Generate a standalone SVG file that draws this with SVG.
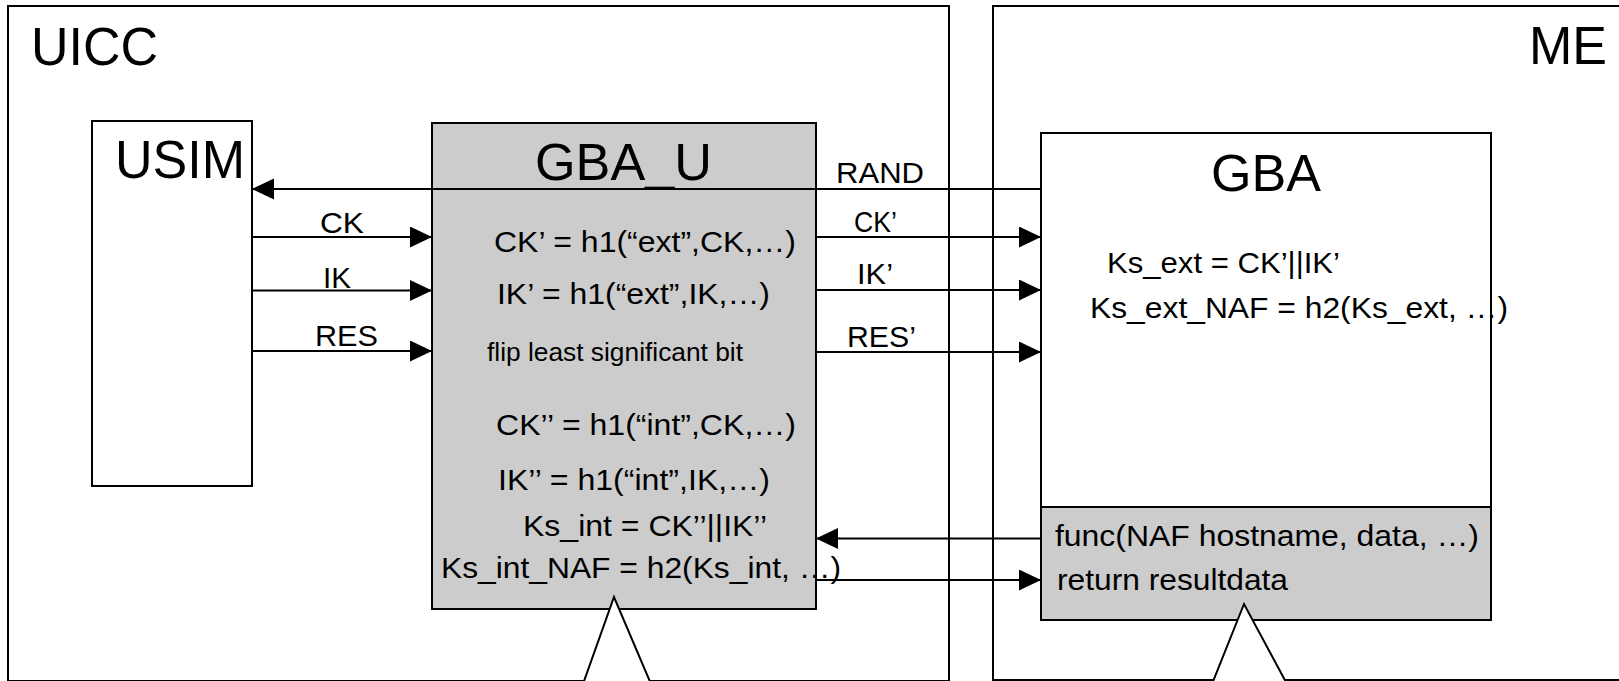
<svg xmlns="http://www.w3.org/2000/svg" width="1619" height="681" viewBox="0 0 1619 681">
<style>
.box{fill:#fff;stroke:#000;stroke-width:2}
.gray{fill:#cccccc;stroke:#000;stroke-width:2}
.t{font-family:"Liberation Sans",Arial,sans-serif;fill:#000}
.big{font-size:53px}
.title{font-size:52px}
.lbl{font-size:29px}
.eq{font-size:30px}
.sm{font-size:25px}
.ln{stroke:#000;stroke-width:2;fill:none}
.ptr{fill:#fff;stroke:#000;stroke-width:2}
</style>
<defs>
<marker id="ah" markerUnits="userSpaceOnUse" markerWidth="23" markerHeight="22" refX="22" refY="10.5" orient="auto">
<path d="M0,0 L22,10.5 L0,21 Z" fill="#000"/>
</marker>
</defs>
<g id="uicc">
<rect class="box" x="8" y="6" width="941" height="675"/>
<text class="t big" x="31" y="65" textLength="127" lengthAdjust="spacingAndGlyphs">UICC</text>
</g>
<g id="me">
<rect class="box" x="993" y="6" width="660" height="674"/>
<text class="t big" x="1529" y="64" textLength="78" lengthAdjust="spacingAndGlyphs">ME</text>
</g>
<g id="usim">
<rect class="box" x="92" y="121" width="160" height="365"/>
<text class="t big" x="115" y="178" textLength="130" lengthAdjust="spacingAndGlyphs">USIM</text>
</g>
<g id="gba_u">
<rect class="gray" x="432" y="123" width="384" height="486"/>
<text class="t title" x="535" y="180" textLength="177" lengthAdjust="spacingAndGlyphs">GBA_U</text>
<text class="t eq" x="494" y="252" textLength="302" lengthAdjust="spacingAndGlyphs">CK’ = h1(“ext”,CK,…)</text>
<text class="t eq" x="497" y="304" textLength="273" lengthAdjust="spacingAndGlyphs">IK’ = h1(“ext”,IK,…)</text>
<text class="t sm" x="487" y="361" textLength="256" lengthAdjust="spacingAndGlyphs">flip least significant bit</text>
<text class="t eq" x="496" y="435" textLength="300" lengthAdjust="spacingAndGlyphs">CK’’ = h1(“int”,CK,…)</text>
<text class="t eq" x="498" y="490" textLength="272" lengthAdjust="spacingAndGlyphs">IK’’ = h1(“int”,IK,…)</text>
<text class="t eq" x="523" y="536" textLength="244" lengthAdjust="spacingAndGlyphs">Ks_int = CK’’||IK’’</text>
<text class="t eq" x="441" y="578" textLength="400" lengthAdjust="spacingAndGlyphs">Ks_int_NAF = h2(Ks_int, …)</text>
<polyline class="ptr" points="583,684 614,597 651,684"/>
</g>
<g id="gba">
<rect class="box" x="1041" y="133" width="450" height="487"/>
<rect class="gray" x="1041" y="507" width="450" height="113"/>
<text class="t title" x="1211" y="191" textLength="110" lengthAdjust="spacingAndGlyphs">GBA</text>
<text class="t eq" x="1107" y="273" textLength="233" lengthAdjust="spacingAndGlyphs">Ks_ext = CK’||IK’</text>
<text class="t eq" x="1090" y="318" textLength="418" lengthAdjust="spacingAndGlyphs">Ks_ext_NAF = h2(Ks_ext, …)</text>
<text class="t eq" x="1055" y="546" textLength="424" lengthAdjust="spacingAndGlyphs">func(NAF hostname, data, …)</text>
<text class="t eq" x="1057" y="590" textLength="231" lengthAdjust="spacingAndGlyphs">return resultdata</text>
<polyline class="ptr" points="1212,684 1244,604 1287,684"/>
</g>
<g id="connectors">
<line class="ln" x1="1041" y1="189" x2="252" y2="189" marker-end="url(#ah)"/>
<text class="t lbl" x="836" y="183" textLength="88" lengthAdjust="spacingAndGlyphs">RAND</text>
<line class="ln" x1="252" y1="237" x2="432" y2="237" marker-end="url(#ah)"/>
<text class="t lbl" x="320" y="233" textLength="44" lengthAdjust="spacingAndGlyphs">CK</text>
<line class="ln" x1="252" y1="290.5" x2="432" y2="290.5" marker-end="url(#ah)"/>
<text class="t lbl" x="323" y="288" textLength="28" lengthAdjust="spacingAndGlyphs">IK</text>
<line class="ln" x1="252" y1="351" x2="432" y2="351" marker-end="url(#ah)"/>
<text class="t lbl" x="315" y="346" textLength="63" lengthAdjust="spacingAndGlyphs">RES</text>
<line class="ln" x1="816" y1="237" x2="1041" y2="237" marker-end="url(#ah)"/>
<text class="t lbl" x="854" y="232" textLength="43" lengthAdjust="spacingAndGlyphs">CK’</text>
<line class="ln" x1="816" y1="290" x2="1041" y2="290" marker-end="url(#ah)"/>
<text class="t lbl" x="857" y="284" textLength="36" lengthAdjust="spacingAndGlyphs">IK’</text>
<line class="ln" x1="816" y1="352" x2="1041" y2="352" marker-end="url(#ah)"/>
<text class="t lbl" x="847" y="347" textLength="69" lengthAdjust="spacingAndGlyphs">RES’</text>
<line class="ln" x1="1041" y1="538.5" x2="816" y2="538.5" marker-end="url(#ah)"/>
<line class="ln" x1="816" y1="580" x2="1041" y2="580" marker-end="url(#ah)"/>
</g>
</svg>
